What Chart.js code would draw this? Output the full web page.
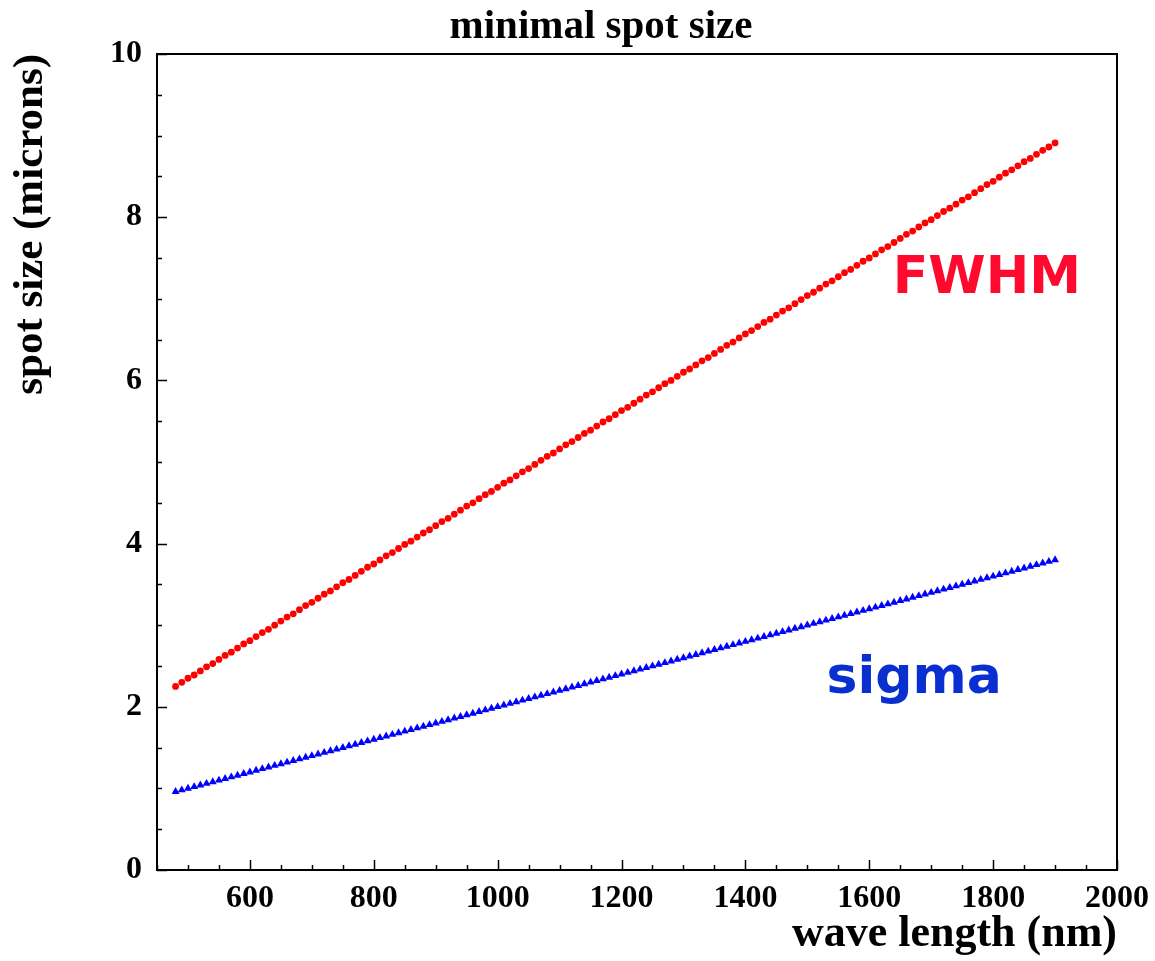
<!DOCTYPE html>
<html>
<head>
<meta charset="utf-8">
<title>minimal spot size</title>
<script src="https://cdn.jsdelivr.net/npm/chart.js@4/dist/chart.umd.min.js"></script>
<style>
  html, body { margin: 0; padding: 0; background: #fff; }
  canvas { display: block; }
</style>
</head>
<body>
<canvas id="spotChart" width="1155" height="961"></canvas>
<script>
// wave length samples (nm)
const waveLength = [
  480, 490, 500, 510, 520, 530, 540, 550, 560, 570, 580, 590,
  600, 610, 620, 630, 640, 650, 660, 670, 680, 690,
  700, 710, 720, 730, 740, 750, 760, 770, 780, 790,
  800, 810, 820, 830, 840, 850, 860, 870, 880, 890,
  900, 910, 920, 930, 940, 950, 960, 970, 980, 990,
  1000, 1010, 1020, 1030, 1040, 1050, 1060, 1070, 1080, 1090,
  1100, 1110, 1120, 1130, 1140, 1150, 1160, 1170, 1180, 1190,
  1200, 1210, 1220, 1230, 1240, 1250, 1260, 1270, 1280, 1290,
  1300, 1310, 1320, 1330, 1340, 1350, 1360, 1370, 1380, 1390,
  1400, 1410, 1420, 1430, 1440, 1450, 1460, 1470, 1480, 1490,
  1500, 1510, 1520, 1530, 1540, 1550, 1560, 1570, 1580, 1590,
  1600, 1610, 1620, 1630, 1640, 1650, 1660, 1670, 1680, 1690,
  1700, 1710, 1720, 1730, 1740, 1750, 1760, 1770, 1780, 1790,
  1800, 1810, 1820, 1830, 1840, 1850, 1860, 1870, 1880, 1890,
  1900
];

// FWHM spot size (microns)
const fwhm = [
  2.25, 2.30, 2.35, 2.39, 2.44, 2.49, 2.53, 2.58, 2.63, 2.67, 2.72, 2.77,
  2.81, 2.86, 2.91, 2.95, 3.00, 3.05, 3.10, 3.14, 3.19, 3.24,
  3.28, 3.33, 3.38, 3.42, 3.47, 3.52, 3.56, 3.61, 3.66, 3.71,
  3.75, 3.80, 3.85, 3.89, 3.94, 3.99, 4.03, 4.08, 4.13, 4.17,
  4.22, 4.27, 4.31, 4.36, 4.41, 4.46, 4.50, 4.55, 4.60, 4.64,
  4.69, 4.74, 4.78, 4.83, 4.88, 4.92, 4.97, 5.02, 5.07, 5.11,
  5.16, 5.21, 5.25, 5.30, 5.35, 5.39, 5.44, 5.49, 5.53, 5.58,
  5.63, 5.67, 5.72, 5.77, 5.82, 5.86, 5.91, 5.96, 6.00, 6.05,
  6.10, 6.14, 6.19, 6.24, 6.28, 6.33, 6.38, 6.43, 6.47, 6.52,
  6.57, 6.61, 6.66, 6.71, 6.75, 6.80, 6.85, 6.89, 6.94, 6.99,
  7.04, 7.08, 7.13, 7.18, 7.22, 7.27, 7.32, 7.36, 7.41, 7.46,
  7.50, 7.55, 7.60, 7.64, 7.69, 7.74, 7.79, 7.83, 7.88, 7.93,
  7.97, 8.02, 8.07, 8.11, 8.16, 8.21, 8.25, 8.30, 8.35, 8.40,
  8.44, 8.49, 8.54, 8.58, 8.63, 8.68, 8.72, 8.77, 8.82, 8.86,
  8.91
];

// gaussian sigma (microns)
const sigma = [
  0.96, 0.98, 1.00, 1.02, 1.04, 1.06, 1.08, 1.10, 1.12, 1.14, 1.16, 1.18,
  1.20, 1.22, 1.24, 1.26, 1.28, 1.30, 1.32, 1.34, 1.36, 1.38,
  1.40, 1.42, 1.44, 1.46, 1.48, 1.50, 1.52, 1.54, 1.56, 1.58,
  1.60, 1.62, 1.64, 1.66, 1.68, 1.70, 1.72, 1.74, 1.76, 1.78,
  1.80, 1.82, 1.84, 1.86, 1.88, 1.90, 1.92, 1.94, 1.96, 1.98,
  2.00, 2.02, 2.04, 2.06, 2.08, 2.10, 2.12, 2.14, 2.16, 2.18,
  2.20, 2.22, 2.24, 2.26, 2.28, 2.30, 2.32, 2.34, 2.36, 2.38,
  2.40, 2.42, 2.44, 2.46, 2.48, 2.50, 2.52, 2.54, 2.56, 2.58,
  2.60, 2.62, 2.64, 2.66, 2.68, 2.70, 2.72, 2.74, 2.76, 2.78,
  2.80, 2.82, 2.84, 2.86, 2.88, 2.90, 2.92, 2.94, 2.96, 2.98,
  3.00, 3.02, 3.04, 3.06, 3.08, 3.10, 3.12, 3.14, 3.16, 3.18,
  3.20, 3.22, 3.24, 3.26, 3.28, 3.30, 3.32, 3.34, 3.36, 3.38,
  3.40, 3.42, 3.44, 3.46, 3.48, 3.50, 3.52, 3.54, 3.56, 3.58,
  3.60, 3.62, 3.64, 3.66, 3.68, 3.70, 3.72, 3.74, 3.76, 3.78,
  3.80
];

const xTicks = [600, 800, 1000, 1200, 1400, 1600, 1800, 2000];
const yTicks = [0, 2, 4, 6, 8, 10];

// curve labels: [text, x, y (baseline), colour]
const curveLabels = [
  ['FWHM', 1638, 7.07, '#ff0a2e'],
  ['sigma', 1531, 2.17, '#0a2fd0'],
];

const serif = '"Liberation Serif", "Times New Roman", serif';

// ROOT-style frame with ticks pointing inwards, plus title and curve labels
const frame = {
  id: 'frame',
  afterDatasetsDraw(chart) {
    const { ctx, chartArea: a, scales: { x, y } } = chart;
    ctx.save();
    ctx.strokeStyle = '#000';
    ctx.lineWidth = 1.5;
    ctx.beginPath();
    for (let v = 450; v <= 2000; v += 50) {
      const px = Math.round(x.getPixelForValue(v)) + 0.5;
      const len = v % 200 === 0 ? 10 : 5;
      ctx.moveTo(px, a.bottom);
      ctx.lineTo(px, a.bottom - len);
    }
    for (let v = 0; v <= 10; v += 0.5) {
      const py = Math.round(y.getPixelForValue(v)) + 0.5;
      const len = v % 2 === 0 ? 10 : 5;
      ctx.moveTo(a.left, py);
      ctx.lineTo(a.left + len, py);
    }
    ctx.stroke();
    ctx.lineWidth = 2;
    ctx.strokeRect(a.left, a.top, a.right - a.left, a.bottom - a.top);

    ctx.fillStyle = '#000';
    ctx.font = 'bold 41px ' + serif;
    ctx.textAlign = 'center';
    ctx.textBaseline = 'alphabetic';
    ctx.fillText('minimal spot size', 601, 38);

    ctx.font = 'bold 52px "DejaVu Sans", sans-serif';
    ctx.textAlign = 'left';
    curveLabels.forEach(([text, vx, vy, color]) => {
      ctx.fillStyle = color;
      ctx.fillText(text, x.getPixelForValue(vx), y.getPixelForValue(vy));
    });
    ctx.restore();
  }
};

const ctx = document.getElementById('spotChart').getContext('2d');

new Chart(ctx, {
  type: 'scatter',
  data: {
    datasets: [
      {
        label: 'FWHM',
        data: waveLength.map((w, i) => ({ x: w, y: fwhm[i] })),
        pointStyle: 'circle',
        pointRadius: 3.4,
        backgroundColor: '#ff0000',
        borderWidth: 0,
      },
      {
        label: 'sigma',
        data: waveLength.map((w, i) => ({ x: w, y: sigma[i] })),
        pointStyle: 'triangle',
        pointRadius: 4.6,
        backgroundColor: '#0000ff',
        borderWidth: 0,
      },
    ],
  },
  options: {
    responsive: false,
    animation: false,
    layout: { padding: { top: 54, right: 38, left: 0, bottom: 0 } },
    plugins: {
      legend: { display: false },
      tooltip: { enabled: false },
      title: { display: false },
    },
    scales: {
      x: {
        type: 'linear',
        min: 450,
        max: 2000,
        afterBuildTicks: (scale) => { scale.ticks = xTicks.map(v => ({ value: v })); },
        afterFit: (scale) => {
          scale.height = 91;
          scale.paddingLeft = 0;
          scale.paddingRight = 0;
        },
        grid: { display: false, drawTicks: false },
        border: { display: false },
        ticks: {
          autoSkip: false,
          maxRotation: 0,
          padding: 10,
          color: '#000',
          font: { family: serif, size: 32, weight: 'bold' },
          callback: (v) => String(v),
        },
        title: {
          display: true,
          text: 'wave length (nm)',
          align: 'end',
          color: '#000',
          font: { family: serif, size: 44, weight: 'bold', lineHeight: 1 },
          padding: { top: 0, bottom: 4 },
        },
      },
      y: {
        min: 0,
        max: 10,
        afterBuildTicks: (scale) => { scale.ticks = yTicks.map(v => ({ value: v })); },
        afterFit: (scale) => {
          scale.width = 157;
          scale.paddingTop = 0;
          scale.paddingBottom = 0;
        },
        grid: { display: false, drawTicks: false },
        border: { display: false },
        ticks: {
          padding: 15,
          color: '#000',
          font: { family: serif, size: 32, weight: 'bold' },
          callback: (v) => String(v),
        },
        title: {
          display: true,
          text: 'spot size (microns)',
          align: 'end',
          color: '#000',
          font: { family: serif, size: 43, weight: 'bold', lineHeight: 1 },
          padding: { top: 9, bottom: 0 },
        },
      },
    },
  },
  plugins: [frame],
});
</script>
</body>
</html>
